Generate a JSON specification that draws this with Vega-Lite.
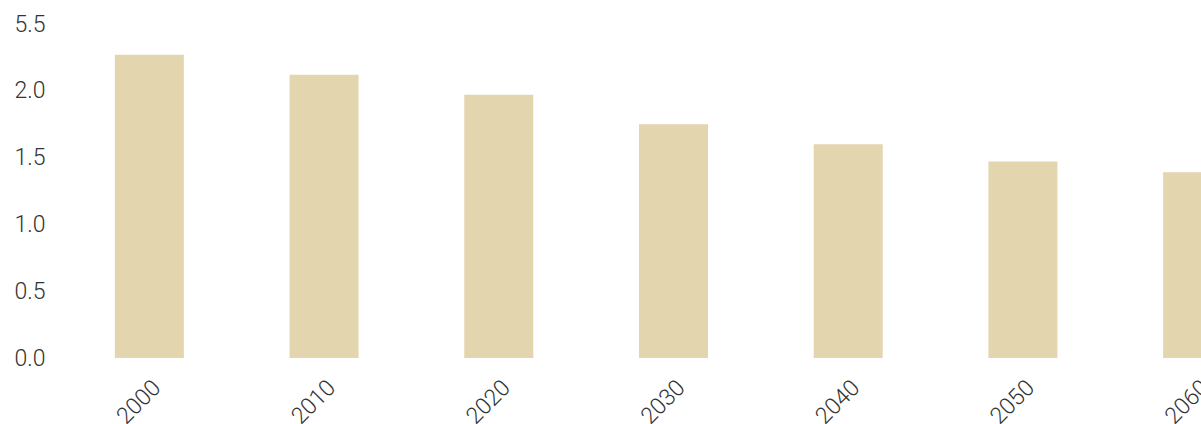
{
  "$schema": "https://vega.github.io/schema/vega-lite/v6.json",
  "autosize": {"type": "none"},
  "padding": {"left": 62, "top": 24, "right": 0, "bottom": 66},
  "width": 1223,
  "height": 334,
  "background": "white",
  "config": {"view": {"stroke": null}},
  "data": {
    "values": [
      {"year": "2000", "value": 2.27},
      {"year": "2010", "value": 2.12},
      {"year": "2020", "value": 1.97},
      {"year": "2030", "value": 1.75},
      {"year": "2040", "value": 1.60},
      {"year": "2050", "value": 1.47},
      {"year": "2060", "value": 1.39}
    ]
  },
  "mark": {"type": "bar", "color": "#e3d5ae"},
  "encoding": {
    "x": {
      "field": "year",
      "type": "ordinal",
      "scale": {"paddingInner": 0.605, "paddingOuter": 0.3025},
      "axis": {
        "title": null,
        "domain": false,
        "ticks": false,
        "tickSize": 0,
        "labelAngle": -45,
        "labelAlign": "right",
        "labelBaseline": "top",
        "labelPadding": 18,
        "labelFont": "Roboto",
        "labelFontWeight": 300,
        "labelFontSize": 23,
        "labelColor": "#333333"
      }
    },
    "y": {
      "field": "value",
      "type": "quantitative",
      "scale": {"domain": [0, 2.5], "nice": false},
      "axis": {
        "title": null,
        "domain": false,
        "ticks": false,
        "tickSize": 0,
        "grid": false,
        "values": [0, 0.5, 1, 1.5, 2, 2.5],
        "labelExpr": "datum.value == 2.5 ? '5.5' : format(datum.value, '.1f')",
        "labelPadding": 17,
        "labelFont": "Roboto",
        "labelFontWeight": 300,
        "labelFontSize": 23,
        "labelColor": "#333333"
      }
    }
  }
}
